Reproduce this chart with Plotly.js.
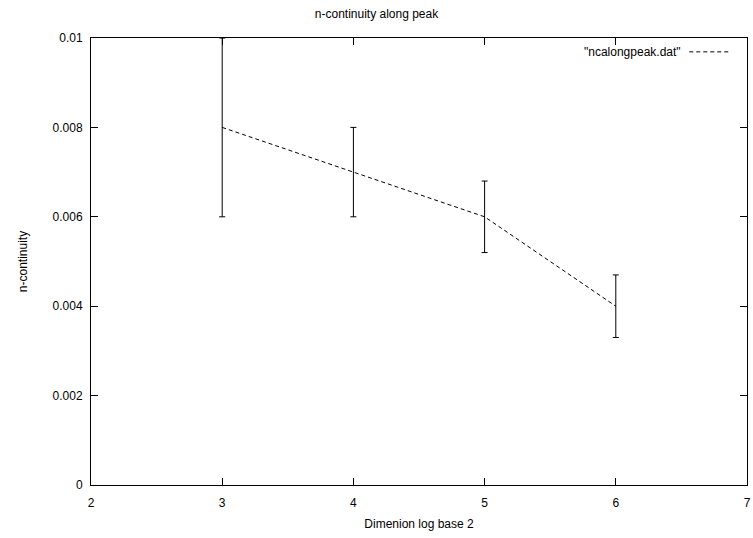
<!DOCTYPE html>
<html>
<head>
<meta charset="utf-8">
<script src="https://cdn.plot.ly/plotly-3.0.1.min.js"></script>
<style>html,body{margin:0;padding:0;background:#fff;}#chart{width:753px;height:538px;}</style>
</head>
<body>
<div id="chart"></div>
<script>
const dimension = [3, 4, 5, 6];
const ncontinuity = [0.008, 0.007, 0.006, 0.004];
const errPlus = [0.002, 0.001, 0.0008, 0.0007];
const errMinus = [0.002, 0.001, 0.0008, 0.0007];
const xTicks = [2, 3, 4, 5, 6, 7];
const yTicks = [0, 0.002, 0.004, 0.006, 0.008, 0.01];
const seriesName = '"ncalongpeak.dat"';

const font = {family: 'Liberation Sans, Arial, sans-serif', size: 12, color: '#000'};

const traces = [
  {
    x: dimension, y: ncontinuity, type: 'scatter', mode: 'lines',
    name: seriesName, showlegend: false,
    line: {color: '#000', width: 1, dash: '4px,3px'},
    error_y: {type: 'data', symmetric: false, array: errPlus, arrayminus: errMinus,
      color: '#000', thickness: 1, width: 3}
  }
];

const layout = {
  width: 753, height: 538,
  margin: {l: 91, r: 6, t: 38, b: 53},
  paper_bgcolor: '#fff', plot_bgcolor: '#fff',
  font: font,
  title: {text: 'n-continuity along peak', font: font, x: 0.5, xanchor: 'center', y: 0.975, yanchor: 'middle'},
  xaxis: {
    range: [2, 7], tickvals: xTicks, ticktext: xTicks.map(String),
    ticks: 'inside', ticklen: 7, tickcolor: '#000', tickwidth: 1,
    showline: true, linecolor: '#000', linewidth: 1, mirror: 'ticks',
    showgrid: false, zeroline: false, tickfont: font, ticklabelstandoff: 7,
    automargin: false,
    title: {text: 'Dimenion log base 2', font: font, standoff: 10}
  },
  yaxis: {
    range: [0, 0.01], tickvals: yTicks, ticktext: yTicks.map(v => String(v)),
    ticks: 'inside', ticklen: 7, tickcolor: '#000', tickwidth: 1,
    showline: true, linecolor: '#000', linewidth: 1, mirror: 'ticks',
    showgrid: false, zeroline: false, tickfont: font, ticklabelstandoff: 5,
    automargin: false,
    title: {text: 'n-continuity', font: font, standoff: 22}
  },
  annotations: [
    {text: seriesName, xref: 'paper', yref: 'paper', x: 0.903, y: 0.969,
      xanchor: 'right', yanchor: 'middle', showarrow: false, font: font}
  ],
  shapes: [
    {type: 'line', xref: 'paper', yref: 'paper', x0: 0.912, x1: 0.9745, y0: 0.969, y1: 0.969,
      line: {color: '#000', width: 1, dash: '4px,3px'}}
  ]
};

Plotly.newPlot('chart', traces, layout, {displayModeBar: false, staticPlot: true});
</script>
</body>
</html>
